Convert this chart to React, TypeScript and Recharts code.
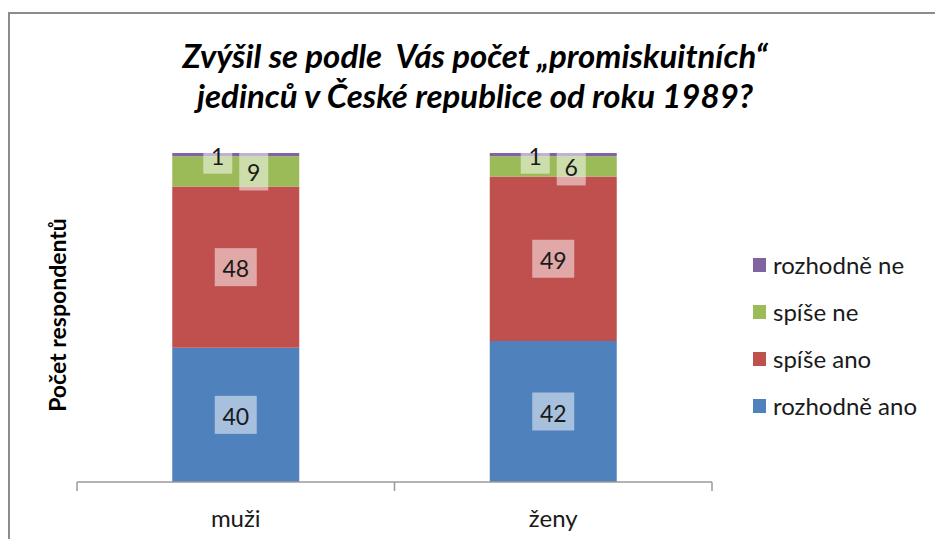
import { BarChart, Bar, XAxis, YAxis, LabelList } from 'recharts';

const categories = ['muži', 'ženy'];
const rozhodneAno = [40, 42];
const spiseAno = [48, 49];
const spiseNe = [9, 6];
const rozhodneNe = [1, 1];

const seriesNames = ['rozhodně ano', 'spíše ano', 'spíše ne', 'rozhodně ne'];
const seriesKeys = ['rozhodneAno', 'spiseAno', 'spiseNe', 'rozhodneNe'];
const seriesColors = ['#4F81BD', '#C0504D', '#9BBB59', '#8064A2'];
// small segments get their labels pushed sideways, like the original
const labelShift = [0, 0, 18, -18];

const FONT = 'Lato, "Open Sans", sans-serif';
const AXIS_GREY = '#9a9a9a';

const data = categories.map((name, i) => ({
  name,
  rozhodneAno: rozhodneAno[i],
  spiseAno: spiseAno[i],
  spiseNe: spiseNe[i],
  rozhodneNe: rozhodneNe[i],
}));

function makeLabel(shift: number) {
  return function BoxLabel(props: any) {
    const { x, y, width, height, value } = props;
    const cx = Number(x) + Number(width) / 2 + shift;
    const cy = Number(y) + Number(height) / 2;
    const text = String(value);
    const w = text.length > 1 ? 42 : 29;
    return (
      <g>
        <rect x={cx - w / 2} y={cy - 19} width={w} height={38} fill="#ffffff" fillOpacity={0.5} />
        <text
          x={cx}
          y={cy + 1}
          textAnchor="middle"
          dominantBaseline="central"
          fontFamily={FONT}
          fontSize={23}
          fill="#1a1a1a"
        >
          {text}
        </text>
      </g>
    );
  };
}

function CategoryTick(props: any) {
  const { x, y, payload, index, visibleTicksCount } = props;
  const half = payload?.offset ?? 0;
  const last = index === visibleTicksCount - 1;
  return (
    <g>
      <line x1={x - half} x2={x - half} y1={y} y2={y + 9} stroke={AXIS_GREY} strokeWidth={1.5} />
      {last && <line x1={x + half} x2={x + half} y1={y} y2={y + 9} stroke={AXIS_GREY} strokeWidth={1.5} />}
      <text x={x} y={y + 45} textAnchor="middle" fontFamily={FONT} fontSize={24} fill="#1a1a1a">
        {payload.value}
      </text>
    </g>
  );
}

export default function App() {
  return (
    <div
      style={{
        position: 'absolute',
        left: 0,
        top: 0,
        width: 935,
        height: 539,
        overflow: 'hidden',
        background: '#fff',
        fontFamily: FONT,
      }}
    >
      <div
        style={{
          position: 'absolute',
          left: 8,
          top: 12,
          width: 2000,
          height: 2000,
          borderLeft: '2px solid #8c8c8c',
          borderTop: '2px solid #8c8c8c',
        }}
      />
      <div
        style={{
          position: 'absolute',
          left: 0,
          top: 35,
          width: 950,
          textAlign: 'center',
          fontSize: 33,
          fontWeight: 700,
          fontStyle: 'italic',
          lineHeight: '40px',
          whiteSpace: 'pre',
          color: '#000',
        }}
      >
        {'Zvýšil se podle  Vás počet „promiskuitních“\njedinců v České republice od roku 1989?'}
      </div>
      <div
        style={{
          position: 'absolute',
          left: 57,
          top: 315,
          transform: 'translate(-50%, -50%) rotate(-90deg)',
          fontSize: 23,
          fontWeight: 700,
          whiteSpace: 'nowrap',
          color: '#000',
        }}
      >
        Počet respondentů
      </div>
      <div style={{ position: 'absolute', left: 0, top: 0 }}>
        <BarChart
          width={935}
          height={539}
          data={data}
          margin={{ top: 153, right: 223, bottom: 0, left: 77 }}
          barCategoryGap="30%"
        >
          <XAxis
            dataKey="name"
            axisLine={{ stroke: AXIS_GREY, strokeWidth: 1.5 }}
            tickLine={false}
            tickSize={0}
            tickMargin={0}
            height={57}
            interval={0}
            tick={<CategoryTick />}
          />
          <YAxis hide domain={[0, 'dataMax']} />
          {seriesKeys.map((key, i) => (
            <Bar
              key={key}
              dataKey={key}
              name={seriesNames[i]}
              stackId="a"
              fill={seriesColors[i]}
              isAnimationActive={false}
            >
              <LabelList dataKey={key} content={makeLabel(labelShift[i])} />
            </Bar>
          ))}
        </BarChart>
      </div>
      <div style={{ position: 'absolute', left: 753, top: 241 }}>
        {seriesNames
          .map((name, i) => ({ name, color: seriesColors[i] }))
          .reverse()
          .map((s) => (
            <div key={s.name} style={{ display: 'flex', alignItems: 'center', height: 47 }}>
              <span style={{ width: 13, height: 14, background: s.color, marginRight: 7, flex: 'none' }} />
              <span style={{ fontSize: 24, color: '#1a1a1a', whiteSpace: 'nowrap' }}>{s.name}</span>
            </div>
          ))}
      </div>
    </div>
  );
}
